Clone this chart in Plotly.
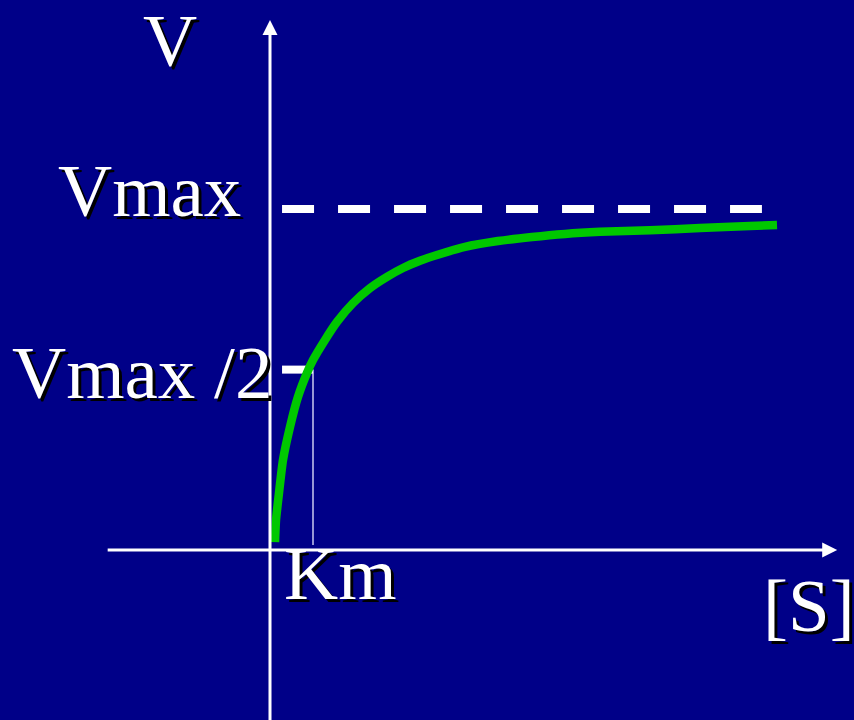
import plotly.graph_objects as go

# ---- data (units: [S] in Km units, V in Vmax units) ----
s_values = [0.116, 0.140, 0.209, 0.302, 0.465, 0.651, 0.860, 1.000, 1.279, 1.558,
            1.930, 2.326, 2.721, 3.093, 3.488, 3.884, 4.535, 5.302, 6.093, 6.860,
            7.674, 8.837, 10.0, 11.163, 11.791]
v_values = [0.023, 0.088, 0.167, 0.264, 0.361, 0.449, 0.519, 0.557, 0.616, 0.669,
            0.724, 0.768, 0.801, 0.827, 0.848, 0.865, 0.889, 0.906, 0.918, 0.927,
            0.933, 0.938, 0.944, 0.950, 0.953]
vmax = 1.0
vmax_half = 0.529
km = 1.0
vmax_line_s = [0.28, 11.44]
half_tick_s = [0.28, 1.0]
km_line_v = [0.015, 0.529]
x_axis_span = [-3.81, 13.19]
y_axis_span = [-0.52, 1.554]

labels = {
    "V": (-2.33, 1.495),
    "Vmax": (-2.80, 1.053),
    "Vmax /2": (-2.98, 0.522),
    "Km": (1.63, -0.070),
    "[S]": (12.53, -0.164),
}

BG = "#000088"
GREEN = "#00C800"
FONT = "Liberation Serif, Times New Roman, serif"

fig = go.Figure()

# Vmax dashed line
fig.add_trace(go.Scatter(x=vmax_line_s, y=[vmax, vmax], mode="lines",
                         line=dict(color="white", width=8, dash="32px,24px"),
                         hoverinfo="skip"))
# Vmax/2 tick
fig.add_trace(go.Scatter(x=half_tick_s, y=[vmax_half, vmax_half], mode="lines",
                         line=dict(color="white", width=8), hoverinfo="skip"))
# Km thin vertical line
fig.add_trace(go.Scatter(x=[km, km], y=km_line_v, mode="lines",
                         line=dict(color="#E8E8FF", width=1.3), hoverinfo="skip"))
# Michaelis-Menten curve
fig.add_trace(go.Scatter(x=s_values, y=v_values, mode="lines",
                         line=dict(color=GREEN, width=8.5, shape="spline", smoothing=0.6),
                         hoverinfo="skip"))

annotations = []
# axes with arrows
annotations.append(dict(x=x_axis_span[1], y=0, ax=x_axis_span[0], ay=0,
                        xref="x", yref="y", axref="x", ayref="y", text="",
                        showarrow=True, arrowhead=2, arrowsize=1, arrowwidth=3,
                        arrowcolor="white"))
annotations.append(dict(x=0, y=y_axis_span[1], ax=0, ay=y_axis_span[0],
                        xref="x", yref="y", axref="x", ayref="y", text="",
                        showarrow=True, arrowhead=2, arrowsize=1, arrowwidth=3,
                        arrowcolor="white"))

for txt, (lx, ly) in labels.items():
    annotations.append(dict(x=lx, y=ly, xref="x", yref="y", text=txt,
                            showarrow=False, xanchor="center", yanchor="middle",
                            font=dict(family=FONT, size=75, color="white",
                                      shadow="3px 3px 0px black")))

fig.update_layout(
    width=854, height=720,
    margin=dict(l=0, r=0, t=0, b=0),
    paper_bgcolor=BG, plot_bgcolor=BG,
    showlegend=False,
    xaxis=dict(range=[-270 / 43, 584 / 43], visible=False, fixedrange=True),
    yaxis=dict(range=[-170 / 341, 550 / 341], visible=False, fixedrange=True),
    annotations=annotations,
)

fig.write_html("out.html", config={"displayModeBar": False},
               post_script="document.body.style.margin='0';"
                           "document.body.style.overflow='hidden';")
